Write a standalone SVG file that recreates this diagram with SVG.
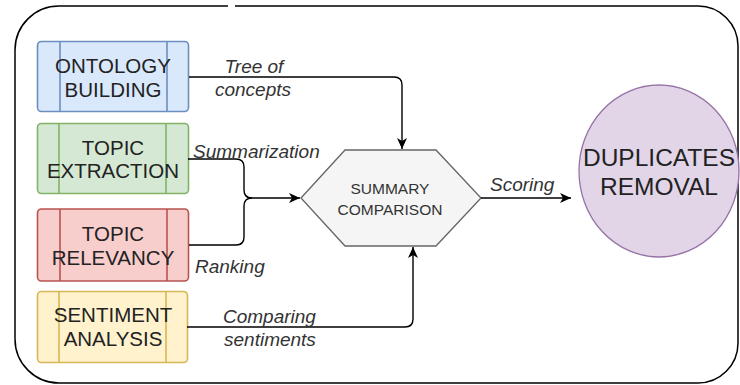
<svg xmlns="http://www.w3.org/2000/svg" width="740" height="385" viewBox="0 0 740 385">
  <defs>
    <marker id="arrow" markerUnits="userSpaceOnUse" markerWidth="12" markerHeight="10" refX="11" refY="5" orient="auto">
      <path d="M0,0 L11,5 L0,10 L3,5 Z" fill="#000"/>
    </marker>
  </defs>
  <style>
    .frame { fill: none; stroke: #000; stroke-width: 1.5; }
    .box { stroke-width: 1.6; }
    .div { fill: none; stroke-width: 1.6; }
    .lbl { font-family: "Liberation Sans", Arial, sans-serif; font-size: 20.5px; fill: #222; text-anchor: middle; }
    .edge { fill: none; stroke: #000; stroke-width: 1.4; }
    .elbl { font-family: "Liberation Sans", Arial, sans-serif; font-size: 19px; font-style: italic; fill: #333; }
    .blue { fill: #dae8fc; stroke: #6c8ebf; }
    .green { fill: #d5e8d4; stroke: #82b366; }
    .red { fill: #f8cecc; stroke: #b85450; }
    .yellow { fill: #fff2cc; stroke: #d6b656; }
  </style>

  <!-- outer container with a small break in the top edge -->
  <path class="frame" d="M 235 6 H 698 A 40 40 0 0 1 738 46 V 343 A 40 40 0 0 1 698 383 H 59 A 44 44 0 0 1 15 339 V 50 A 44 44 0 0 1 59 6 H 228"/>

  <g id="ontology-building">
    <rect class="box blue" x="37.5" y="41.5" width="151" height="70" rx="4"/>
    <path class="div" stroke="#6c8ebf" d="M 60 41.5 V 111.5 M 167 41.5 V 111.5"/>
    <text class="lbl" x="113" y="73">ONTOLOGY</text>
    <text class="lbl" x="113" y="97">BUILDING</text>
  </g>

  <g id="topic-extraction">
    <rect class="box green" x="37.5" y="123.5" width="151" height="70" rx="4"/>
    <path class="div" stroke="#82b366" d="M 59 123.5 V 193.5 M 166 123.5 V 193.5"/>
    <text class="lbl" x="113" y="155">TOPIC</text>
    <text class="lbl" x="113" y="178">EXTRACTION</text>
  </g>

  <g id="topic-relevancy">
    <rect class="box red" x="37.5" y="209" width="151" height="72" rx="4"/>
    <path class="div" stroke="#b85450" d="M 60 209 V 281 M 167 209 V 281"/>
    <text class="lbl" x="113" y="241">TOPIC</text>
    <text class="lbl" x="113" y="265">RELEVANCY</text>
  </g>

  <g id="sentiment-analysis">
    <rect class="box yellow" x="37.5" y="291.5" width="150" height="71" rx="4"/>
    <path class="div" stroke="#d6b656" d="M 59 291.5 V 362.5 M 166 291.5 V 362.5"/>
    <text class="lbl" x="113" y="322">SENTIMENT</text>
    <text class="lbl" x="113" y="346">ANALYSIS</text>
  </g>

  <g id="summary-comparison">
    <polygon points="301,198 345,150 436,150 481,198 436,246 345,246" fill="#f5f5f5" stroke="#666" stroke-width="1.3"/>
    <text x="390" y="194" font-family="Liberation Sans, Arial, sans-serif" font-size="15.5" fill="#333" text-anchor="middle">SUMMARY</text>
    <text x="390" y="215" font-family="Liberation Sans, Arial, sans-serif" font-size="15.5" fill="#333" text-anchor="middle">COMPARISON</text>
  </g>

  <g id="duplicates-removal">
    <ellipse cx="659" cy="171" rx="80" ry="86" fill="#e1d5e7" stroke="#9673a6" stroke-width="1.3"/>
    <text x="659" y="166" font-family="Liberation Sans, Arial, sans-serif" font-size="24.5" fill="#222" text-anchor="middle">DUPLICATES</text>
    <text x="659" y="195" font-family="Liberation Sans, Arial, sans-serif" font-size="24.5" fill="#222" text-anchor="middle">REMOVAL</text>
  </g>

  <g id="connectors">
    <path class="edge" marker-end="url(#arrow)" d="M 189 77 H 394 Q 402 77 402 85 V 149"/>
    <path class="edge" marker-end="url(#arrow)" d="M 188 159 H 236 Q 244 159 244 167 V 190 Q 244 198 252 198 H 300"/>
    <path class="edge" d="M 189 245 H 236 Q 244 245 244 237 V 206 Q 244 198 252 198"/>
    <path class="edge" marker-end="url(#arrow)" d="M 187 327 H 405 Q 413 327 413 319 V 247"/>
    <path class="edge" marker-end="url(#arrow)" d="M 481 198 H 571"/>

    <text class="elbl" x="254" y="73" text-anchor="middle">Tree of</text>
    <text class="elbl" x="253" y="96" text-anchor="middle">concepts</text>
    <text class="elbl" x="193" y="158">Summarization</text>
    <text class="elbl" x="195" y="273">Ranking</text>
    <text class="elbl" x="223" y="323">Comparing</text>
    <text class="elbl" x="224" y="346">sentiments</text>
    <text class="elbl" x="490" y="191">Scoring</text>
  </g>
</svg>
